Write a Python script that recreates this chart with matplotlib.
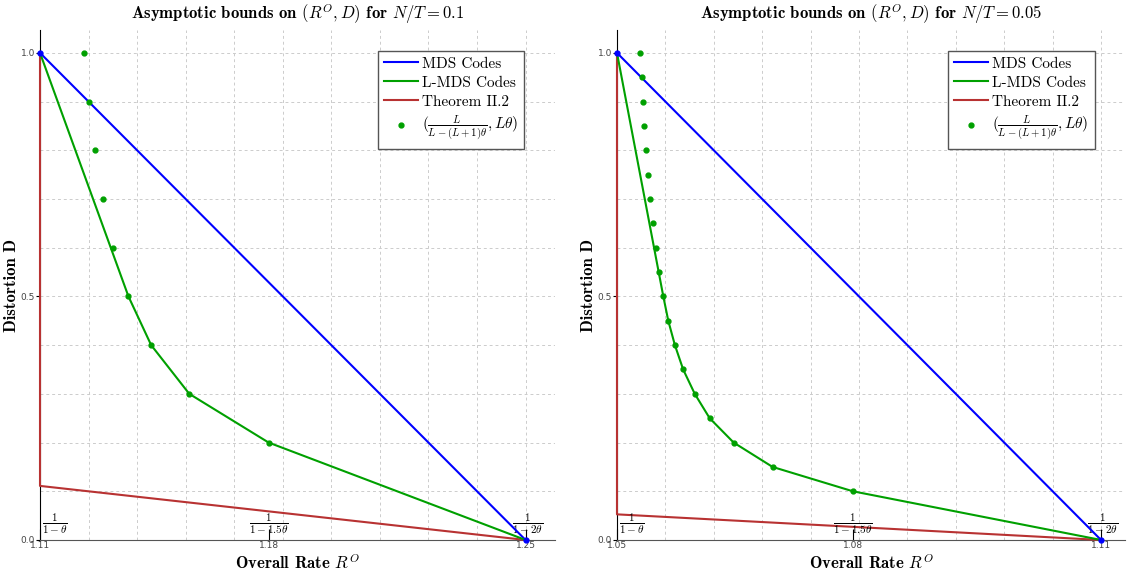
import matplotlib
matplotlib.use("Agg")
import matplotlib.pyplot as plt
import numpy as np

plt.rcParams["mathtext.fontset"] = "cm"

# ---- data ----
# left panel, N/T = 0.1
theta_a = 0.1
xticks_a = [1.1111, 1.1765, 1.25]
xticklabels_a = ["1.11", "1.18", "1.25"]
mds_a_x = [1.1111, 1.25]
mds_a_d = [1.0, 0.0]
lmds_a_x = [1.1111, 1.1364, 1.1429, 1.1538, 1.1765, 1.25]
lmds_a_d = [1.0, 0.5, 0.4, 0.3, 0.2, 0.0]
thm_a_x = [1.1111, 1.1111, 1.25]
thm_a_d = [1.0, 0.111, 0.0]
dots_a_x = [1.1236, 1.1250, 1.1268, 1.1290, 1.1321, 1.1364, 1.1429, 1.1538, 1.1765]
dots_a_d = [1.0, 0.9, 0.8, 0.7, 0.6, 0.5, 0.4, 0.3, 0.2]
xlim_a = (1.1111, 1.2585)

# right panel, N/T = 0.05
theta_b = 0.05
xticks_b = [1.0526, 1.0811, 1.1111]
xticklabels_b = ["1.05", "1.08", "1.11"]
mds_b_x = [1.0526, 1.1111]
mds_b_d = [1.0, 0.0]
lmds_b_x = [1.0526, 1.0582, 1.0588, 1.0596, 1.0606, 1.0620, 1.0638, 1.0667,
            1.0714, 1.0811, 1.1111]
lmds_b_d = [1.0, 0.5, 0.45, 0.4, 0.35, 0.3, 0.25, 0.2, 0.15, 0.1, 0.0]
thm_b_x = [1.0526, 1.0526, 1.1111]
thm_b_d = [1.0, 0.0526, 0.0]
dots_b_x = [1.0554, 1.0556, 1.0557, 1.0559, 1.0561, 1.0563, 1.0566, 1.0569,
            1.0573, 1.0577, 1.0582, 1.0588, 1.0596, 1.0606, 1.0620, 1.0638,
            1.0667, 1.0714, 1.0811]
dots_b_d = [1.0, 0.95, 0.9, 0.85, 0.8, 0.75, 0.7, 0.65, 0.6, 0.55, 0.5, 0.45,
            0.4, 0.35, 0.3, 0.25, 0.2, 0.15, 0.1]
xlim_b = (1.0526, 1.1140)

BLUE = "#0000ff"
GREEN = "#00a000"
RED = "#b83232"
SERIF_B = dict(family="cmb10", fontsize=12)


def panel(ax, theta, xticks, xticklabels, mds, lmds, thm, dots, xlim):
    x0, xm, x1 = xticks
    ax.plot(*mds, color=BLUE, lw=1.5, label="MDS Codes", zorder=4, clip_on=False)
    ax.plot(*mds, ls="none", color=BLUE, marker="o", ms=3.5, zorder=5, clip_on=False)
    ax.plot(*lmds, color=GREEN, lw=1.5, label="L-MDS Codes", zorder=4, clip_on=False)
    ax.plot(*thm, color=RED, lw=1.5, label="Theorem II.2", zorder=3, clip_on=False)
    ax.plot(*dots, ls="none", marker="o", ms=3.5, color=GREEN,
            label=r"$(\frac{L}{L-(L+1)\theta},L\theta)$", zorder=5)

    ax.set_xlim(*xlim)
    ax.set_ylim(0, 1.046)
    ax.set_xticks(xticks)
    ax.set_xticklabels(xticklabels)
    ax.set_yticks([0.0, 0.5, 1.0])
    ax.set_yticklabels(["0.0", "0.5", "1.0"])
    ax.tick_params(labelsize=6.5, labelcolor="#444444", length=3, pad=0.5)
    ax.tick_params(axis="x", direction="in", length=8, pad=1)

    # mathematica-like grid
    for gx in np.linspace(x0, x1, 11)[1:]:
        ax.axvline(gx, color="#cccccc", ls=(0, (3, 3)), lw=0.7, zorder=0)
    for gy in np.arange(1, 11) / 10:
        ax.axhline(gy, color="#cccccc", ls=(0, (3, 3)), lw=0.7, zorder=0)

    for s in ("top", "right"):
        ax.spines[s].set_visible(False)
    ax.spines["bottom"].set_color("#555555")

    ax.text(x0 + 0.004 * (x1 - x0), 0.008, r"$\frac{1}{1-\theta}$", fontsize=11.5,
            ha="left", va="bottom")
    ax.text(xm, 0.008, r"$\frac{1}{1-1.5\theta}$", fontsize=11.5, ha="center", va="bottom")
    ax.text(x1 + 0.003 * (x1 - x0), 0.008, r"$\frac{1}{1-2\theta}$", fontsize=11.5,
            ha="center", va="bottom")

    ax.set_title(r"Asymptotic bounds on $(R^O,D)$ for $N/T=%s$" % theta, pad=8, **SERIF_B)
    ax.set_xlabel(r"Overall Rate $R^O$", labelpad=2, **SERIF_B)
    ax.set_ylabel("Distortion D", labelpad=1.5, **SERIF_B)

    leg = ax.legend(loc="upper right", bbox_to_anchor=(0.955, 0.975), fancybox=False,
                    prop=dict(family="cmr10", size=11), handlelength=2.2,
                    handletextpad=0.3, borderpad=0.4, labelspacing=0.35,
                    framealpha=1)
    leg.get_frame().set_edgecolor("#555555")
    leg.get_frame().set_linewidth(1.0)


fig = plt.figure(figsize=(11.30, 5.79), dpi=100)
ax1 = fig.add_axes([0.0354, 0.0674, 0.456, 0.88])
ax2 = fig.add_axes([0.546, 0.0674, 0.4496, 0.88])

panel(ax1, theta_a, xticks_a, xticklabels_a, (mds_a_x, mds_a_d), (lmds_a_x, lmds_a_d),
      (thm_a_x, thm_a_d), (dots_a_x, dots_a_d), xlim_a)
panel(ax2, theta_b, xticks_b, xticklabels_b, (mds_b_x, mds_b_d), (lmds_b_x, lmds_b_d),
      (thm_b_x, thm_b_d), (dots_b_x, dots_b_d), xlim_b)

fig.savefig("out.png")
